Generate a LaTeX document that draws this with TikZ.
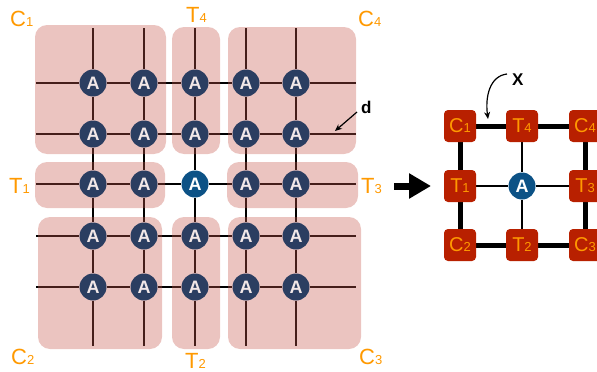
\documentclass[tikz,border=0pt]{standalone}
\usepackage{fontspec}
\setmainfont{Liberation Sans}
\usetikzlibrary{arrows.meta}
\definecolor{lbl}{RGB}{255,153,0}
\definecolor{navy}{RGB}{43,62,97}
\definecolor{cblue}{RGB}{12,82,134}
\definecolor{pinkred}{RGB}{198,86,75}
\definecolor{tile}{RGB}{184,32,0}
\definecolor{atext}{RGB}{242,232,232}
\newcommand\lsub[1]{{\fontsize{13}{13}\selectfont #1}}
\pgfdeclarelayer{bg}
\pgfdeclarelayer{mid}
\pgfsetlayers{bg,mid,main}
\begin{document}
\begin{tikzpicture}[x=1pt,y=-1pt,
 anode/.style={circle,fill=navy,minimum size=27pt,inner sep=0pt,text=atext,font=\fontsize{18}{18}\selectfont\bfseries},
 cnode/.style={anode,fill=cblue,text=white},
 gridline/.style={line width=1.4pt,black},
 region/.style={fill=pinkred,fill opacity=0.35,rounded corners=12pt},
 lab/.style={text=lbl,font=\fontsize{22}{22}\selectfont,inner sep=0pt,anchor=base west},
 tilebox/.style={fill=tile,rounded corners=4pt,minimum size=32pt,inner sep=0pt,text=lbl,font=\fontsize{20}{20}\selectfont},
 thickedge/.style={line width=5pt},
 thinedge/.style={line width=1.3pt},
 blab/.style={font=\fontsize{17}{17}\selectfont\bfseries,inner sep=0pt,anchor=base west}]
\useasboundingbox (0,0) rectangle (597,372);
\clip (0,0) rectangle (597,372);

% ---------- left grid nodes ----------
\foreach \r/\y in {1/83,2/134,3/184,4/236,5/287}{
  \foreach \c/\x in {1/93,2/144,3/195,4/246,5/296}{
    \ifnum\r\c=33 \def\st{cnode}\else\def\st{anode}\fi
    \node[\st] (a\r\c) at (\x,\y) {A};
  }
}
\foreach \c/\x in {1/93,2/144,3/195,4/246,5/296}{
  \coordinate (top\c) at (\x,28);
  \coordinate (bot\c) at (\x,346);
}
\foreach \r/\y in {1/83,2/134,3/184,4/236,5/287}{
  \coordinate (lft\r) at (36,\y);
  \coordinate (rgt\r) at (356,\y);
}
\begin{pgfonlayer}{bg}
  \foreach \c in {1,...,5}{
    \draw[gridline] (top\c) -- (a1\c) -- (a2\c) -- (a3\c) -- (a4\c) -- (a5\c) -- (bot\c);
  }
  \foreach \r in {1,...,5}{
    \draw[gridline] (lft\r) -- (a\r1) -- (a\r2) -- (a\r3) -- (a\r4) -- (a\r5) -- (rgt\r);
  }
\end{pgfonlayer}
\begin{pgfonlayer}{mid}
  \fill[region] (35,25) rectangle (166,154);
  \fill[region] (172,27) rectangle (220,154);
  \fill[region] (228,27) rectangle (356,154);
  \fill[region] (35,162) rectangle (165,208);
  \fill[region] (227,162) rectangle (358,208);
  \fill[region] (38,217) rectangle (162,349);
  \fill[region] (172,217) rectangle (220,349);
  \fill[region] (228,217) rectangle (361,349);
\end{pgfonlayer}

% ---------- left labels ----------
\node[lab] (lc1) at (10,26) {C\lsub{1}};
\node[lab] (lt4) at (186,23) {T\lsub{4}};
\node[lab] (lc4) at (358,26) {C\lsub{4}};
\node[lab] (lt1) at (9,193) {T\lsub{1}};
\node[lab] (lt3) at (361,193) {T\lsub{3}};
\node[lab] (lc2) at (11,364) {C\lsub{2}};
\node[lab] (lt2) at (185,368) {T\lsub{2}};
\node[lab] (lc3) at (359,364) {C\lsub{3}};

% d label
\node[blab] (dlab) at (361,113) {d};
\coordinate (dfrom) at (357,112);
\coordinate (dto) at (335,131);
\draw[line width=1.2pt,-{Stealth[length=7pt,width=6pt]}] (dfrom) -- (dto);

% ---------- big arrow ----------
\coordinate (arrS) at (394,186);
\coordinate (arrE) at (431,186);
\draw[line width=7pt,-{Triangle[length=22pt,width=24pt]}] (arrS) -- (arrE);

% ---------- right small grid ----------
\node[tilebox] (rc1) at (460,126) {C\lsub{1}};
\node[tilebox] (rt4) at (522,126) {T\lsub{4}};
\node[tilebox] (rc4) at (585,126) {C\lsub{4}};
\node[tilebox] (rt1) at (460,186) {T\lsub{1}};
\node[cnode] (ra) at (522,186) {A};
\node[tilebox] (rt3) at (585,186) {T\lsub{3}};
\node[tilebox] (rc2) at (460,245) {C\lsub{2}};
\node[tilebox] (rt2) at (522,245) {T\lsub{2}};
\node[tilebox] (rc3) at (585,245) {C\lsub{3}};
\begin{pgfonlayer}{bg}
  \draw[thickedge] (rc1) -- (rt4);
  \draw[thickedge] (rt4) -- (rc4);
  \draw[thickedge] (rc4) -- (rt3);
  \draw[thickedge] (rt3) -- (rc3);
  \draw[thickedge] (rc3) -- (rt2);
  \draw[thickedge] (rt2) -- (rc2);
  \draw[thickedge] (rc2) -- (rt1);
  \draw[thickedge] (rt1) -- (rc1);
  \draw[thinedge] (rt4) -- (ra);
  \draw[thinedge] (ra) -- (rt2);
  \draw[thinedge] (rt1) -- (ra);
  \draw[thinedge] (ra) -- (rt3);
\end{pgfonlayer}

% X label
\node[blab] (xlab) at (512,85) {X};
\coordinate (xfrom) at (507,74);
\coordinate (xto) at (488,119);
\draw[line width=1.2pt,-{Stealth[length=7pt,width=6pt]}] (xfrom) .. controls (490,76) and (485,96) .. (xto);
\end{tikzpicture}
\end{document}
